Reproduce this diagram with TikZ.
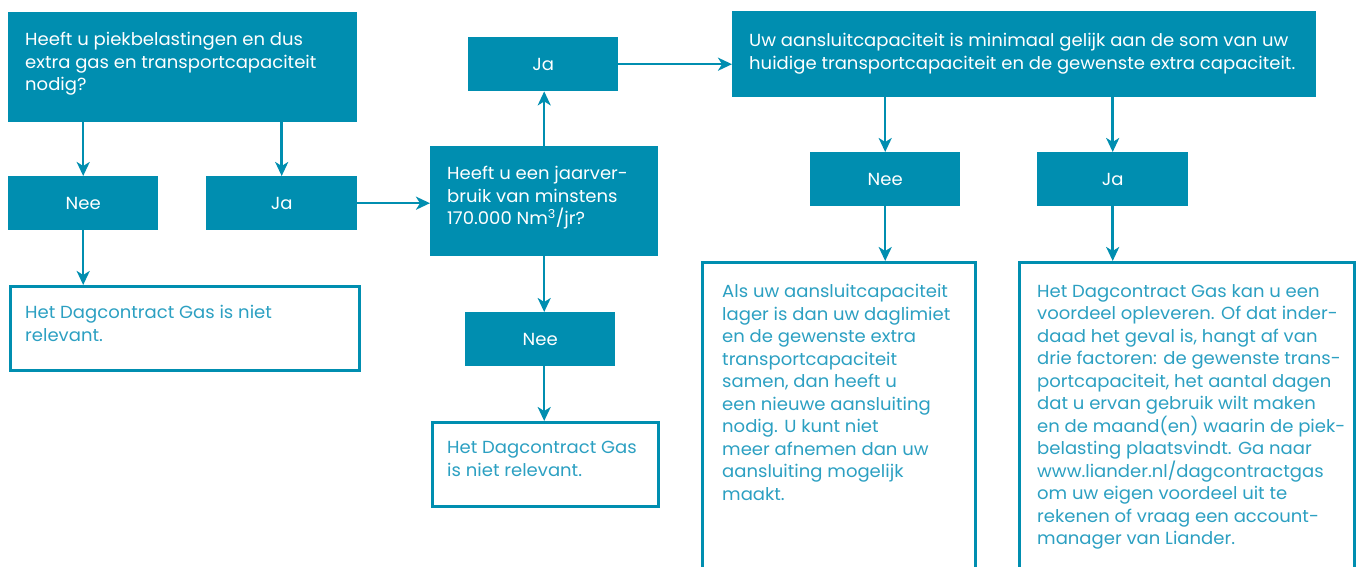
\documentclass[tikz,border=0pt]{standalone}
\usepackage{fontspec}
\setmainfont{Poppins}[FakeStretch=1.03]
\usepackage{tikz}
\usetikzlibrary{arrows.meta}
\definecolor{liander}{HTML}{008EB0}
\definecolor{lichtblauw}{HTML}{2CA0C2}
\tikzset{
  blok/.style={fill=liander, anchor=north west, inner sep=0pt},
  keuze/.style={blok, minimum width=150, minimum height=54, text=white},
  uitkomst/.style={draw=liander, line width=2.5pt, fill=white, anchor=north west, inner sep=0pt},
  tekst/.style={anchor=north west, align=left, inner sep=0pt, font=\fontsize{17.5}{22.5}\selectfont},
  pijl/.style={draw=liander, line width=2.5pt, -{Stealth[length=14pt,width=13pt,inset=4pt]}}
}
\begin{document}
\begin{tikzpicture}[x=1pt, y=-1pt, font=\fontsize{17.5}{22.5}\selectfont]
\useasboundingbox (0,0) rectangle (1357,567);
\clip (0,0) rectangle (1357,567);

% Define nodes

\node[blok, minimum width=349, minimum height=110]   (vraag1) at (8,12) {};
\node[keuze]                                         (nee1) at (8,176) {Nee};
\node[keuze, minimum width=151]                      (ja1) at (206,176) {Ja};
\node[uitkomst, minimum width=349, minimum height=84] (uitkomst1) at (9,285) {};

\node[blok, minimum width=228, minimum height=110]   (vraag2) at (430,146) {};
\node[keuze]                                         (ja2) at (468,37) {Ja};
\node[keuze]                                         (nee2) at (465,312) {Nee};
\node[uitkomst, minimum width=226, minimum height=84] (uitkomst2) at (431,421) {};

\node[blok, minimum width=584, minimum height=86]    (melding) at (732,11) {};
\node[keuze]                                         (nee3) at (810,152) {Nee};
\node[keuze, minimum width=151]                      (ja3) at (1037,152) {Ja};
\node[uitkomst, minimum width=273, minimum height=340] (uitkomst3) at (701,261) {};
\node[uitkomst, minimum width=335, minimum height=340] (uitkomst4) at (1018,261) {};

% Texts

\node[tekst, text=white] (tvraag1) at (25,32)
  {Heeft u piekbelastingen en dus\\extra gas en transportcapaciteit\\nodig?};
\node[tekst, text=lichtblauw] (tuitkomst1) at (25,305)
  {Het Dagcontract Gas is niet\\relevant.};
\node[tekst, text=white] (tvraag2) at (447,166)
  {Heeft u een jaarver-\\bruik van minstens\\170.000 Nm\textsuperscript{3}/jr?};
\node[tekst, text=lichtblauw] (tuitkomst2) at (447,441)
  {Het Dagcontract Gas\\is niet relevant.};
\node[tekst, text=white] (tmelding) at (749,33)
  {Uw aansluitcapaciteit is minimaal gelijk aan de som van uw\\huidige transportcapaciteit en de gewenste extra capaciteit.};
\node[tekst, text=lichtblauw] (tuitkomst3) at (722,284)
  {Als uw aansluitcapaciteit\\lager is dan uw daglimiet\\en de gewenste extra\\transportcapaciteit\\samen, dan heeft u\\een nieuwe aansluiting\\nodig. U kunt niet\\meer afnemen dan uw\\aansluiting mogelijk\\maakt.};
\node[tekst, text=lichtblauw] (tuitkomst4) at (1037,284)
  {Het Dagcontract Gas kan u een\\voordeel opleveren. Of dat inder-\\daad het geval is, hangt af van\\drie factoren: de gewenste trans-\\portcapaciteit, het aantal dagen\\dat u ervan gebruik wilt maken\\en de maand(en) waarin de piek-\\belasting plaatsvindt. Ga naar\\www.liander.nl/dagcontractgas\\om uw eigen voordeel uit te\\rekenen of vraag een account-\\manager van Liander.};

% Connect the nodes

\draw[pijl] (nee1 |- vraag1.south) -- (nee1.north) ; %
\draw[pijl] (ja1 |- vraag1.south) -- (ja1.north) ; %
\draw[pijl] (nee1.south) -- (nee1.south |- uitkomst1.north) ; %
\draw[pijl] (ja1.east) -- (ja1.east -| vraag2.west) ; %

\draw[pijl] (vraag2.north) -- (vraag2.north |- ja2.south) ; %
\draw[pijl] (ja2.east) -- (ja2.east -| melding.west) ; %
\draw[pijl] (vraag2.south) -- (vraag2.south |- nee2.north) ; %
\draw[pijl] (vraag2.south |- nee2.south) -- (vraag2.south |- uitkomst2.north) ; %

\draw[pijl] (nee3 |- melding.south) -- (nee3.north) ; %
\draw[pijl] (ja3 |- melding.south) -- (ja3.north) ; %
\draw[pijl] (nee3.south) -- (nee3.south |- uitkomst3.north) ; %
\draw[pijl] (ja3.south) -- (ja3.south |- uitkomst4.north) ; %

\end{tikzpicture}
\end{document}
